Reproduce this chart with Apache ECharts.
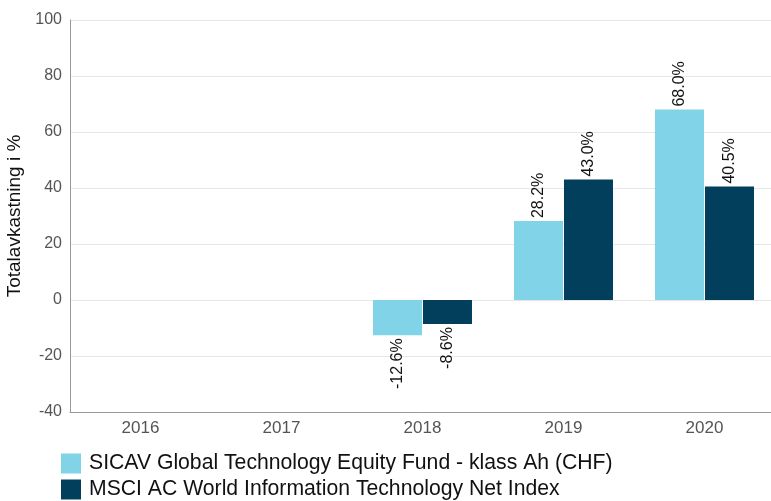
<!DOCTYPE html>
<html>
<head>
<meta charset="utf-8">
<script src="https://cdn.jsdelivr.net/npm/echarts@6/dist/echarts.min.js"></script>
<style>html,body{margin:0;padding:0;background:#fff}#c{width:771px;height:501px}</style>
</head>
<body>
<div id="c"></div>
<script>
var categories = ['2016', '2017', '2018', '2019', '2020'];
var fundName = 'SICAV Global Technology Equity Fund - klass Ah (CHF)';
var indexName = 'MSCI AC World Information Technology Net Index';
var fundValues = [null, null, -12.6, 28.2, 68.0];
var indexValues = [null, null, -8.6, 43.0, 40.5];
var yTicks = { min: -40, max: 100, interval: 20 };

var font = 'Liberation Sans, Arial, sans-serif';
function mkData(vals) {
  return vals.map(function (v) {
    if (v === null) return null;
    return {
      value: v,
      label: v < 0 ? { position: 'bottom', align: 'right' } : { position: 'top', align: 'left' }
    };
  });
}
var labelBase = {
  show: true, rotate: 90, verticalAlign: 'middle', distance: 3,
  fontFamily: font, fontSize: 16, color: '#111',
  formatter: function (p) { return p.value.toFixed(1) + '%'; }
};
var legendBase = {
  orient: 'horizontal', left: 61, itemWidth: 20, itemHeight: 20, padding: 0,
  icon: 'rect', itemGap: 0,
  textStyle: { fontFamily: font, fontSize: 21.2, color: '#111', padding: [0, 0, 0, 3] }
};
var chart = echarts.init(document.getElementById('c'), null, { renderer: 'canvas' });
chart.setOption({
  animation: false,
  textStyle: { fontFamily: font },
  grid: { left: 70, width: 705, top: 20, height: 392, containLabel: false, outerBoundsMode: 'none' },
  legend: [
    Object.assign({}, legendBase, { top: 453, data: [fundName] }),
    Object.assign({}, legendBase, { top: 479, data: [indexName] })
  ],
  xAxis: {
    type: 'category', data: categories,
    axisLine: { onZero: false, lineStyle: { color: '#999' } },
    axisTick: { show: false },
    axisLabel: { fontFamily: font, fontSize: 17, color: '#555', margin: 8 }
  },
  yAxis: {
    type: 'value', min: yTicks.min, max: yTicks.max, interval: yTicks.interval,
    name: 'Totalavkastning i %', nameLocation: 'middle', nameGap: 42,
    nameTextStyle: { fontFamily: font, fontSize: 19, color: '#111' },
    axisLine: { show: true, lineStyle: { color: '#999' } },
    axisTick: { show: false },
    splitLine: { lineStyle: { color: '#e6e6e6' } },
    axisLabel: { fontFamily: font, fontSize: 16, color: '#555', margin: 8 }
  },
  series: [
    { name: fundName, type: 'bar', data: mkData(fundValues), barWidth: 49, barGap: '2%',
      itemStyle: { color: '#81d4e7' }, label: labelBase },
    { name: indexName, type: 'bar', data: mkData(indexValues), barWidth: 49,
      itemStyle: { color: '#023f5c' }, label: labelBase }
  ]
});
</script>
</body>
</html>
